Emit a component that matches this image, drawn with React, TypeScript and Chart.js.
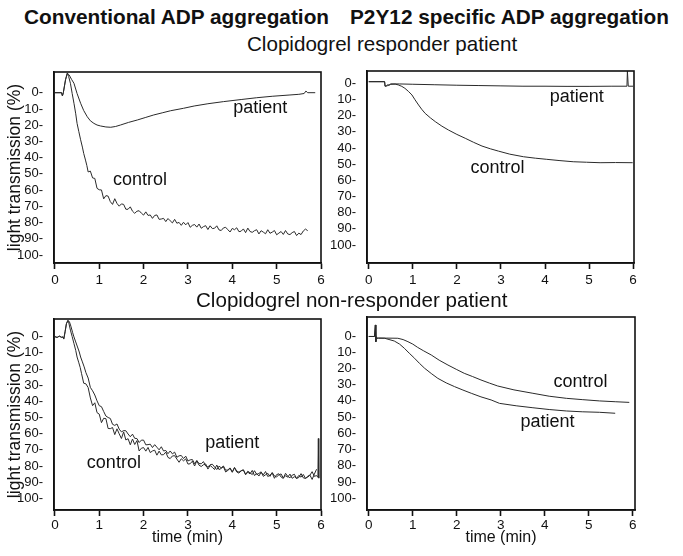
import React, { useEffect, useRef } from "react";
import { Chart, registerables } from "chart.js";

Chart.register(...registerables);

const FONT = '"Liberation Sans", Arial, Helvetica, sans-serif';

// ---------- tick labels ----------
const xTickValues = [0, 1, 2, 3, 4, 5, 6];
const yTickValues = [0, 10, 20, 30, 40, 50, 60, 70, 80, 90, 100];

// ---------- Panel A: conventional ADP, responder ----------
const aPatientTime = [0, 0.15, 0.17, 0.19, 0.24, 0.28, 0.32, 0.38, 0.43, 0.5, 0.58, 0.65, 0.73, 0.8, 0.88, 0.95, 1.03, 1.15, 1.26, 1.37, 1.48, 1.66, 1.86, 2.05, 2.23, 2.42, 2.61, 2.9, 3.14, 3.45, 3.8, 4.2, 4.55, 4.9, 5.3, 5.5, 5.62, 5.66, 5.7, 5.87];
const aPatientValue = [0, 0, 2, 0, -8, -12, -11, -8, -5.8, 0.5, 6.5, 11, 14.8, 17.3, 18.9, 19.9, 20.5, 21.1, 21.3, 20.8, 19.9, 18.3, 16.8, 15.2, 13.7, 12.4, 11.1, 9.6, 8.2, 6.8, 5.5, 4.2, 3.1, 2.2, 1.4, 1.0, 0.5, -1, 0, 0];
const aControlTime = [0, 0.15, 0.17, 0.19, 0.24, 0.28, 0.31, 0.35, 0.39, 0.43, 0.47, 0.5, 0.54, 0.58, 0.62, 0.65, 0.69, 0.72,
  0.75, 0.8, 0.85, 0.9, 0.95, 1.0, 1.05, 1.1, 1.15, 1.2, 1.25, 1.3, 1.35, 1.4, 1.45, 1.5, 1.55, 1.6, 1.65, 1.7, 1.75, 1.8, 1.85, 1.9, 1.95,
  2.0, 2.05, 2.1, 2.15, 2.2, 2.25, 2.3, 2.35, 2.4, 2.45, 2.5, 2.55, 2.6, 2.65, 2.7, 2.75, 2.8, 2.85, 2.9, 2.95,
  3.0, 3.05, 3.1, 3.15, 3.2, 3.25, 3.3, 3.35, 3.4, 3.45, 3.5, 3.55, 3.6, 3.65, 3.7, 3.75, 3.8, 3.85, 3.9, 3.95,
  4.0, 4.05, 4.1, 4.15, 4.2, 4.25, 4.3, 4.35, 4.4, 4.45, 4.5, 4.55, 4.6, 4.65, 4.7, 4.75, 4.8, 4.85, 4.9, 4.95,
  5.0, 5.05, 5.1, 5.15, 5.2, 5.25, 5.3, 5.35, 5.4, 5.45, 5.5, 5.55, 5.6, 5.65, 5.7];
const aControlValue = [0, 0, 2, 0, -8, -12, -10, -5.8, 0.5, 6.5, 13, 18.9, 24, 29, 33.5, 37.4, 41.5, 44.8,
  48.8, 48.3, 52.5, 52.8, 58.9, 59.8, 59.9, 65.4, 63.4, 63.7, 67.1, 68.8, 65.3, 68.2, 69.9, 68.5, 68.8, 71.8, 71.8, 70.3, 73.0, 74.3, 73.0, 72.7, 74.2,
  75.4, 73.4, 75.6, 75.3, 77.4, 75.6, 75.3, 78.0, 77.8, 77.4, 79.4, 77.5, 78.9, 80.2, 78.0, 80.4, 79.9, 81.7, 79.8, 81.4,
  80.0, 82.9, 81.7, 81.2, 82.8, 80.9, 83.5, 82.5, 81.9, 84.3, 82.0, 83.7, 83.5, 82.0, 84.5, 84.9, 83.3, 82.9, 84.4, 85.8,
  83.6, 84.4, 83.2, 85.6, 85.3, 83.9, 86.2, 83.4, 85.5, 86.0, 85.0, 84.4, 87.0, 85.0, 85.9, 86.9, 84.4, 86.6, 85.9, 84.9,
  87.5, 86.5, 85.5, 87.3, 84.9, 87.0, 87.4, 86.2, 85.5, 88.0, 86.5, 87.4, 85.2, 84.0, 85.0];

// ---------- Panel B: P2Y12 specific ADP, responder ----------
const bPatientTime = [0, 0.36, 0.37, 0.4, 0.43, 0.46, 0.5, 0.7, 1.0, 1.5, 2.0, 2.5, 3.0, 3.5, 4.0, 4.5, 5.0, 5.5, 5.86, 5.87, 5.88, 5.89, 6.0];
const bPatientValue = [-1, -1, 1.8, 1.6, 0.9, 1.2, 0.4, 0.4, 0.6, 0.9, 1.2, 1.4, 1.6, 1.8, 1.8, 1.9, 1.9, 1.8, 1.8, -7.5, -7.5, 1.8, 1.8];
const bControlTime = [0, 0.36, 0.37, 0.42, 0.5, 0.6, 0.67, 0.75, 0.82, 0.9, 0.98, 1.05, 1.13, 1.2, 1.28, 1.4, 1.51, 1.66, 1.81, 2.0, 2.19, 2.38, 2.57, 2.76, 2.94, 3.2, 3.51, 3.78, 4.04, 4.34, 4.64, 4.94, 5.25, 5.6, 5.99];
const bControlValue = [-1, -1, 1.8, 1.5, 0.6, 0.5, 1.0, 1.9, 3.1, 5, 7.2, 10.2, 13.4, 16, 18.6, 21.4, 23.7, 26.5, 28.9, 31.6, 34, 36.5, 38.8, 40.5, 41.9, 43.8, 45.4, 46.3, 47, 47.8, 48.5, 48.8, 49.1, 49, 49.1];

// ---------- Panel C: conventional ADP, non-responder ----------
const cControlTime = [0, 0.05, 0.1, 0.15, 0.18, 0.2, 0.23, 0.26, 0.29, 0.31, 0.35, 0.39, 0.43, 0.47, 0.5, 0.54, 0.57,
  0.6, 0.65, 0.7, 0.75, 0.8, 0.85, 0.9, 0.95, 1.0, 1.05, 1.1, 1.15, 1.2, 1.25, 1.3, 1.35, 1.4, 1.45, 1.5, 1.55, 1.6, 1.65, 1.7, 1.75, 1.8, 1.85, 1.9, 1.95,
  2.0, 2.05, 2.1, 2.15, 2.2, 2.25, 2.3, 2.35, 2.4, 2.45, 2.5, 2.55, 2.6, 2.65, 2.7, 2.75, 2.8, 2.85, 2.9, 2.95,
  3.0, 3.05, 3.1, 3.15, 3.2, 3.25, 3.3, 3.35, 3.4, 3.45, 3.5, 3.55, 3.6, 3.65, 3.7, 3.75, 3.8, 3.85, 3.9, 3.95,
  4.0, 4.05, 4.1, 4.15, 4.2, 4.25, 4.3, 4.35, 4.4, 4.45, 4.5, 4.55, 4.6, 4.65, 4.7, 4.75, 4.8, 4.85, 4.9, 4.95,
  5.0, 5.05, 5.1, 5.15, 5.2, 5.25, 5.3, 5.35, 5.4, 5.45, 5.5, 5.55, 5.6, 5.65, 5.7, 5.75, 5.8, 5.85, 5.9];
const cControlValue = [0, 0.5, -0.3, 0.4, 0.2, 1.5, -3, -8, -10, -9, -4, 0, 4.3, 8.5, 12.6, 16.2, 19.0,
  22.7, 28.8, 29.2, 31.5, 37.9, 42.7, 40.9, 47.0, 47.9, 53.2, 50.5, 50.7, 56.8, 56.9, 56.2, 60.6, 57.0, 60.1, 63.0, 58.9, 63.9, 63.1, 66.9, 63.3, 66.7, 64.3, 70.7, 69.0,
  68.6, 70.8, 68.5, 71.7, 70.7, 70.2, 73.3, 70.8, 73.1, 73.0, 71.4, 74.7, 75.4, 73.8, 73.6, 75.7, 77.7, 75.5, 76.8, 75.6,
  78.8, 78.6, 77.0, 80.0, 76.8, 79.5, 80.3, 79.2, 78.7, 81.9, 79.7, 80.8, 82.2, 79.4, 82.2, 81.5, 80.4, 83.7, 82.7, 81.5,
  83.9, 81.1, 83.7, 84.4, 83.0, 82.4, 85.4, 83.8, 84.9, 82.7, 85.9, 84.7, 86.2, 83.9, 85.5, 83.4, 86.5, 85.7, 84.3, 87.6,
  85.3, 84.8, 86.8, 87.7, 84.5, 86.4, 87.3, 85.7, 85.1, 87.7, 87.1, 84.7, 87.3, 87.7, 86.3, 85.6, 88.3, 85.0, 82.0];
const cPatientTime = [0, 0.05, 0.1, 0.15, 0.18, 0.2, 0.23, 0.26, 0.3, 0.33, 0.36, 0.4, 0.43, 0.47, 0.51, 0.55, 0.58, 0.62, 0.66,
  0.7, 0.75, 0.8, 0.85, 0.9, 0.95, 1.0, 1.05, 1.1, 1.15, 1.2, 1.25, 1.3, 1.35, 1.4, 1.45, 1.5, 1.55, 1.6, 1.65, 1.7, 1.75, 1.8, 1.85, 1.9, 1.95,
  2.0, 2.05, 2.1, 2.15, 2.2, 2.25, 2.3, 2.35, 2.4, 2.45, 2.5, 2.55, 2.6, 2.65, 2.7, 2.75, 2.8, 2.85, 2.9, 2.95,
  3.0, 3.05, 3.1, 3.15, 3.2, 3.25, 3.3, 3.35, 3.4, 3.45, 3.5, 3.55, 3.6, 3.65, 3.7, 3.75, 3.8, 3.85, 3.9, 3.95,
  4.0, 4.05, 4.1, 4.15, 4.2, 4.25, 4.3, 4.35, 4.4, 4.45, 4.5, 4.55, 4.6, 4.65, 4.7, 4.75, 4.8, 4.85, 4.9, 4.95,
  5.0, 5.05, 5.1, 5.15, 5.2, 5.25, 5.3, 5.35, 5.4, 5.45, 5.5, 5.55, 5.6, 5.65, 5.7, 5.75, 5.8, 5.85, 5.9, 5.93, 5.94, 5.95];
const cPatientValue = [0, 0.5, -0.3, 0.4, 0.2, 1.5, -3, -8, -10, -9, -6.5, -2.5, 0.2, 3.3, 6.4, 9.5, 12.6, 15.6, 18.7,
  22.3, 25.6, 31.4, 33.5, 36.1, 39.7, 42.7, 43.3, 46.3, 49.1, 50.0, 50.6, 54.2, 54.9, 54.0, 57.2, 58.9, 58.1, 58.2, 60.2, 61.9, 60.3, 62.9, 63.0, 65.5, 64.0,
  64.0, 66.9, 66.8, 66.5, 68.6, 66.8, 68.4, 70.0, 68.1, 70.7, 70.4, 72.4, 70.7, 72.5, 71.4, 74.6, 73.7, 73.5, 75.4, 73.9,
  76.9, 76.2, 76.0, 78.6, 76.6, 78.5, 78.6, 77.3, 80.0, 80.6, 79.2, 78.9, 80.6, 82.2, 80.1, 81.1, 80.0, 82.6, 82.4, 81.2,
  83.6, 80.9, 83.1, 83.8, 82.9, 82.4, 85.1, 83.2, 84.2, 85.3, 82.9, 85.2, 84.6, 83.6, 86.4, 85.4, 84.5, 86.4, 84.0, 86.2,
  86.7, 85.5, 84.9, 87.4, 86.0, 86.9, 85.0, 87.6, 86.6, 87.7, 85.8, 86.9, 85.2, 87.6, 86.9, 85.7, 83.5, 86.4, 85.9, 87.0, 63.0, 87.5];

// ---------- Panel D: P2Y12 specific ADP, non-responder ----------
const dControlTime = [0, 0.13, 0.15, 0.16, 0.17, 0.19, 0.22, 0.4, 0.66, 0.78, 0.89, 1.0, 1.11, 1.25, 1.42, 1.6, 1.8, 2.0, 2.17, 2.36, 2.55, 2.74, 2.93, 3.3, 3.73, 4.1, 4.49, 4.85, 5.24, 5.6, 5.92];
const dControlValue = [0.3, 0.3, -6.8, 3.5, 0.5, 1.4, 1.3, 1.3, 1.4, 2.2, 3.5, 5, 7, 9.2, 11.7, 14.9, 17.9, 20.7, 23, 25, 27.1, 29, 30.8, 33.2, 35.3, 37.1, 38.4, 39.2, 40, 40.5, 40.9];
const dPatientTime = [0, 0.13, 0.15, 0.16, 0.17, 0.19, 0.22, 0.36, 0.58, 0.7, 0.81, 0.92, 1.04, 1.15, 1.27, 1.42, 1.57, 1.76, 1.95, 2.14, 2.33, 2.55, 2.78, 2.97, 3.35, 3.73, 4.1, 4.49, 4.85, 5.24, 5.6, 5.92];
const dPatientValue = [0.3, 0.3, -6.8, 3.5, 0.5, 1.4, 1.3, 1.4, 3.1, 5, 7.6, 10.6, 13.7, 16.8, 19.9, 23.1, 26.1, 28.9, 31.2, 33.3, 35.3, 37.5, 39.4, 41.5, 43, 44.2, 45.3, 46.2, 46.7, 47, 47.6];

// ---------- texts ----------
const headingLeft = "Conventional ADP aggregation";
const headingRight = "P2Y12 specific ADP aggregation";
const subtitleTop = "Clopidogrel responder patient";
const subtitleBottom = "Clopidogrel non-responder patient";
const yTitle = "light transmission (%)";
const xTitle = "time (min)";

type Series = { t: number[]; v: number[] };
type Label = { text: string; x: number; y: number };
type Panel = {
  key: string;
  left: number; top: number; width: number; height: number;
  padTop: number; padRight: number; yWidth: number; xHeight: number;
  xMin: number; xMax: number; yMin: number; yMax: number;
  showYTitle: boolean; showXTitle: boolean; xTickPad: number;
  series: Series[];
  labels: Label[];
};

const panels: Panel[] = [
  {
    key: "a", left: 0, top: 60, width: 340, height: 240,
    padTop: 12, padRight: 19, yWidth: 54, xHeight: 37,
    xMin: -0.02, xMax: 6, yMin: -12.75, yMax: 104.9,
    showYTitle: true, showXTitle: false, xTickPad: 3,
    series: [{ t: aPatientTime, v: aPatientValue }, { t: aControlTime, v: aControlValue }],
    labels: [{ text: "patient", x: 4.63, y: 9.4 }, { text: "control", x: 1.92, y: 54 }],
  },
  {
    key: "b", left: 328, top: 60, width: 355, height: 240,
    padTop: 11, padRight: 49, yWidth: 39, xHeight: 37,
    xMin: -0.04, xMax: 6.02, yMin: -7.6, yMax: 111.1,
    showYTitle: false, showXTitle: false, xTickPad: 3,
    series: [{ t: bPatientTime, v: bPatientValue }, { t: bControlTime, v: bControlValue }],
    labels: [{ text: "patient", x: 4.72, y: 8.3 }, { text: "control", x: 2.92, y: 52.6 }],
  },
  {
    key: "c", left: 0, top: 300, width: 340, height: 256,
    padTop: 19, padRight: 19, yWidth: 54, xHeight: 46,
    xMin: -0.02, xMax: 6, yMin: -10.9, yMax: 107.2,
    showYTitle: true, showXTitle: true, xTickPad: 1,
    series: [{ t: cControlTime, v: cControlValue }, { t: cPatientTime, v: cPatientValue }],
    labels: [{ text: "patient", x: 4.0, y: 66 }, { text: "control", x: 1.33, y: 78.3 }],
  },
  {
    key: "d", left: 328, top: 300, width: 355, height: 256,
    padTop: 17, padRight: 48, yWidth: 39, xHeight: 46,
    xMin: -0.04, xMax: 6.05, yMin: -11.7, yMax: 107.2,
    showYTitle: false, showXTitle: true, xTickPad: 1,
    series: [{ t: dControlTime, v: dControlValue }, { t: dPatientTime, v: dPatientValue }],
    labels: [{ text: "control", x: 4.81, y: 28.2 }, { text: "patient", x: 4.06, y: 52.8 }],
  },
];

const boxPlugin = {
  id: "frameBox",
  afterDraw(chart: any) {
    const { ctx, chartArea } = chart;
    ctx.save();
    ctx.strokeStyle = "#111";
    ctx.lineWidth = 1.6;
    ctx.strokeRect(chartArea.left, chartArea.top, chartArea.right - chartArea.left, chartArea.bottom - chartArea.top);
    ctx.restore();
  },
};

function makeLabelPlugin(labels: Label[]) {
  return {
    id: "curveLabels",
    afterDatasetsDraw(chart: any) {
      const { ctx, scales } = chart;
      ctx.save();
      ctx.font = `18px ${FONT}`;
      ctx.fillStyle = "#111";
      ctx.textAlign = "center";
      ctx.textBaseline = "middle";
      labels.forEach((l) => {
        ctx.fillText(l.text, scales.x.getPixelForValue(l.x), scales.y.getPixelForValue(l.y));
      });
      ctx.restore();
    },
  };
}

function PanelChart({ panel }: { panel: Panel }) {
  const ref = useRef<HTMLCanvasElement | null>(null);
  useEffect(() => {
    if (!ref.current) return;
    const chart = new Chart(ref.current, {
      type: "line",
      data: {
        datasets: panel.series.map((s) => ({
          data: s.t.map((x, i) => ({ x, y: s.v[i] })),
          borderColor: "#2a2a2a",
          borderWidth: 1,
          pointRadius: 0,
          fill: false,
          tension: 0,
        })),
      },
      options: {
        responsive: false,
        animation: false,
        devicePixelRatio: 1,
        layout: { padding: { top: panel.padTop, right: panel.padRight, left: 0, bottom: 0 } },
        plugins: { legend: { display: false }, tooltip: { enabled: false }, title: { display: false } },
        scales: {
          x: {
            type: "linear",
            min: panel.xMin,
            max: panel.xMax,
            afterBuildTicks: (s: any) => {
              s.ticks = xTickValues.map((v) => ({ value: v }));
            },
            afterFit: (s: any) => {
              s.height = panel.xHeight;
            },
            ticks: {
              font: { family: FONT, size: 13.5 },
              color: "#111",
              padding: panel.xTickPad,
              maxRotation: 0,
              autoSkip: false,
            },
            grid: {
              display: true,
              drawOnChartArea: false,
              drawTicks: true,
              tickLength: 6,
              tickWidth: 1.6,
              tickColor: "#111",
              color: "#111",
            },
            border: { display: true, color: "#111", width: 1.6 },
            title: {
              display: panel.showXTitle,
              text: xTitle,
              font: { family: FONT, size: 16 },
              color: "#111",
              padding: { top: 0, bottom: 9 },
            },
          },
          y: {
            type: "linear",
            reverse: true,
            min: panel.yMin,
            max: panel.yMax,
            afterBuildTicks: (s: any) => {
              s.ticks = yTickValues.map((v) => ({ value: v }));
            },
            afterFit: (s: any) => {
              s.width = panel.yWidth;
            },
            ticks: {
              callback: (v: any) => `${v}-`,
              font: { family: FONT, size: 13 },
              color: "#111",
              padding: 3,
              autoSkip: false,
            },
            grid: { display: false },
            border: { display: true, color: "#111", width: 1.6 },
            title: {
              display: panel.showYTitle,
              text: yTitle,
              font: { family: FONT, size: 17.5 },
              color: "#111",
              padding: { top: 5, bottom: 0 },
            },
          },
        },
      } as any,
      plugins: [boxPlugin, makeLabelPlugin(panel.labels)],
    });
    return () => chart.destroy();
  }, [panel]);
  return (
    <canvas
      ref={ref}
      width={panel.width}
      height={panel.height}
      style={{ position: "absolute", left: panel.left, top: panel.top, width: panel.width, height: panel.height }}
    />
  );
}

const textBase: React.CSSProperties = {
  position: "absolute",
  whiteSpace: "nowrap",
  lineHeight: 1,
  color: "#111",
  fontFamily: FONT,
};

export default function App() {
  return (
    <div style={{ position: "absolute", left: 0, top: 0, width: 683, height: 556, background: "#fff", overflow: "hidden" }}>
      {panels.map((p) => (
        <PanelChart key={p.key} panel={p} />
      ))}
      <div style={{ ...textBase, left: 24, top: 7, fontSize: 20.8, fontWeight: 700 }}>{headingLeft}</div>
      <div style={{ ...textBase, left: 350, top: 7, fontSize: 20.8, fontWeight: 700 }}>{headingRight}</div>
      <div style={{ ...textBase, left: 247, top: 34, fontSize: 20.6 }}>{subtitleTop}</div>
      <div style={{ ...textBase, left: 196, top: 290, fontSize: 20.6 }}>{subtitleBottom}</div>
    </div>
  );
}
